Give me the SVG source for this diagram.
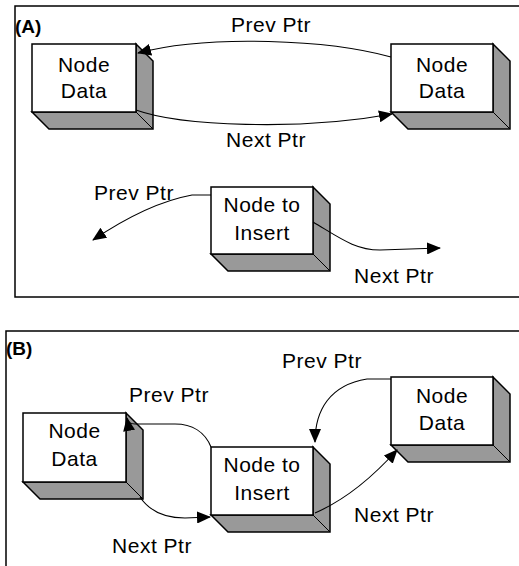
<svg xmlns="http://www.w3.org/2000/svg" width="519" height="566" viewBox="0 0 519 566">
<style>
.panel{fill:none;stroke:#000;stroke-width:1.5}
.front{fill:#fff;stroke:#000;stroke-width:1.5}
.side{fill:#999;stroke:#000;stroke-width:1.5;stroke-linejoin:miter}
.edge{fill:none;stroke:#000;stroke-width:1}
.t{font-family:"Liberation Sans",Arial,sans-serif;font-size:21px;letter-spacing:0.5px;text-anchor:middle;fill:#000}
.lbl{font-family:"Liberation Sans",Arial,sans-serif;font-size:19px;font-weight:bold;fill:#000}
.c{fill:none;stroke:#000;stroke-width:1.1}
</style>
<defs>
<marker id="ah" markerUnits="userSpaceOnUse" markerWidth="14" markerHeight="12" viewBox="0 0 14 12" refX="13" refY="6" orient="auto">
<path d="M0,0 L14,6 L0,12 Z" fill="#000"/>
</marker>
</defs>
<rect width="519" height="566" fill="#fff"/>
<g id="panelA">
<rect class="panel" x="15" y="6" width="520" height="291"/>
<text class="lbl" x="15" y="33">(A)</text>
</g>
<g id="panelB">
<rect class="panel" x="6" y="331" width="530" height="260"/>
<text class="lbl" x="6" y="355">(B)</text>
</g>
<g id="a-node1">
<path class="side" d="M136,44 L153,61 L153,129 L49,129 L32,112 L136,112 Z"/>
<path class="edge" d="M136,112 L153,129"/>
<rect class="front" x="32" y="44" width="104" height="68"/>
<text class="t" x="84" y="71.5">Node</text>
<text class="t" x="84" y="97.5">Data</text>
</g>
<g id="a-node2">
<path class="side" d="M493,44 L510,61 L510,129 L408,129 L391,112 L493,112 Z"/>
<path class="edge" d="M493,112 L510,129"/>
<rect class="front" x="391" y="44" width="102" height="68"/>
<text class="t" x="442" y="71.5">Node</text>
<text class="t" x="442" y="97.5">Data</text>
</g>
<g id="a-insert">
<path class="side" d="M313,187 L330,204 L330,271 L228,271 L211,254 L313,254 Z"/>
<path class="edge" d="M313,254 L330,271"/>
<rect class="front" x="211" y="187" width="102" height="67"/>
<text class="t" x="262" y="211.5">Node to</text>
<text class="t" x="262" y="240">Insert</text>
</g>
<g id="b-node1">
<path class="side" d="M126,413 L143,430 L143,499 L40,499 L23,482 L126,482 Z"/>
<path class="edge" d="M126,482 L143,499"/>
<rect class="front" x="23" y="413" width="103" height="69"/>
<text class="t" x="74.5" y="438">Node</text>
<text class="t" x="74.5" y="466">Data</text>
</g>
<g id="b-insert">
<path class="side" d="M313,447 L330,464 L330,532 L228,532 L211,515 L313,515 Z"/>
<path class="edge" d="M313,515 L330,532"/>
<rect class="front" x="211" y="447" width="102" height="68"/>
<text class="t" x="262" y="472">Node to</text>
<text class="t" x="262" y="500">Insert</text>
</g>
<g id="b-node2">
<path class="side" d="M493,377 L510,394 L510,462 L408,462 L391,445 L493,445 Z"/>
<path class="edge" d="M493,445 L510,462"/>
<rect class="front" x="391" y="377" width="102" height="68"/>
<text class="t" x="442" y="403">Node</text>
<text class="t" x="442" y="430">Data</text>
</g>
<g id="connectors">
<path class="c" d="M391,57 C330,40 210,34 138,53" marker-end="url(#ah)"/>
<path class="c" d="M136,110 C180,126 300,131 392,114" marker-end="url(#ah)"/>
<path class="c" d="M211,195 L192,195 C165,200 130,215 93,240" marker-end="url(#ah)"/>
<path class="c" d="M313,222 C340,238 355,250 380,250 L440,248" marker-end="url(#ah)"/>
<path class="c" d="M211,447 C205,432 192,424 175,424 L135,424 Q128,424 127,418" marker-end="url(#ah)"/>
<path class="c" d="M140,497 C150,512 165,518 185,518 L210,517" marker-end="url(#ah)"/>
<path class="c" d="M391,379 L367,379 C330,385 315,410 315,442" marker-end="url(#ah)"/>
<path class="c" d="M315,513 C345,500 370,480 397,450" marker-end="url(#ah)"/>
<text class="t" x="271" y="32">Prev Ptr</text>
<text class="t" x="266" y="147">Next Ptr</text>
<text class="t" x="134" y="200">Prev Ptr</text>
<text class="t" x="394" y="283">Next Ptr</text>
<text class="t" x="322" y="368">Prev Ptr</text>
<text class="t" x="169" y="402">Prev Ptr</text>
<text class="t" x="394" y="522">Next Ptr</text>
<text class="t" x="152" y="553">Next Ptr</text>
</g>
</svg>
